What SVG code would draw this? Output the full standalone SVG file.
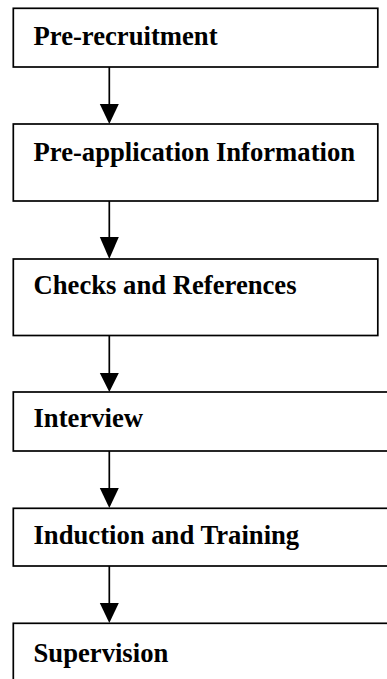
<svg xmlns="http://www.w3.org/2000/svg" width="387" height="679" viewBox="0 0 387 679">
<style>
.box{fill:#fff;stroke:#000;stroke-width:1.7}
.lbl{font-family:"Liberation Serif","Times New Roman",serif;font-weight:bold;font-size:26.67px;fill:#000}
.ln{stroke:#000;stroke-width:1.7;fill:none}
.hd{fill:#000;stroke:none}
</style>
<rect width="387" height="679" fill="#fff"/>
<g id="connectors">
<line class="ln" x1="109.3" y1="67" x2="109.3" y2="105"/>
<polygon class="hd" points="99.8,104 118.8,104 109.3,124"/>
<line class="ln" x1="109.3" y1="201" x2="109.3" y2="238"/>
<polygon class="hd" points="99.8,237 118.8,237 109.3,259"/>
<line class="ln" x1="109.3" y1="336" x2="109.3" y2="374"/>
<polygon class="hd" points="99.8,373 118.8,373 109.3,392"/>
<line class="ln" x1="109.3" y1="451" x2="109.3" y2="489"/>
<polygon class="hd" points="99.8,488 118.8,488 109.3,508"/>
<line class="ln" x1="109.3" y1="566" x2="109.3" y2="604"/>
<polygon class="hd" points="99.8,603 118.8,603 109.3,623"/>
</g>
<g id="n1"><rect class="box" x="13.3" y="8.3" width="364.5" height="58.7"/><text class="lbl" x="33.5" y="45">Pre-recruitment</text></g>
<g id="n2"><rect class="box" x="13.3" y="124" width="364.5" height="77"/><text class="lbl" x="33.5" y="161">Pre-application Information</text></g>
<g id="n3"><rect class="box" x="13.3" y="259" width="364.5" height="76.5"/><text class="lbl" x="33.5" y="294.3">Checks and References</text></g>
<g id="n4"><rect class="box" x="13.3" y="392" width="400" height="59"/><text class="lbl" x="33.5" y="427.3">Interview</text></g>
<g id="n5"><rect class="box" x="13.3" y="508.3" width="400" height="57.7"/><text class="lbl" x="33.5" y="544.3">Induction and Training</text></g>
<g id="n6"><rect class="box" x="13.3" y="623.3" width="400" height="80"/><text class="lbl" x="33.5" y="661.7">Supervision</text></g>
</svg>
